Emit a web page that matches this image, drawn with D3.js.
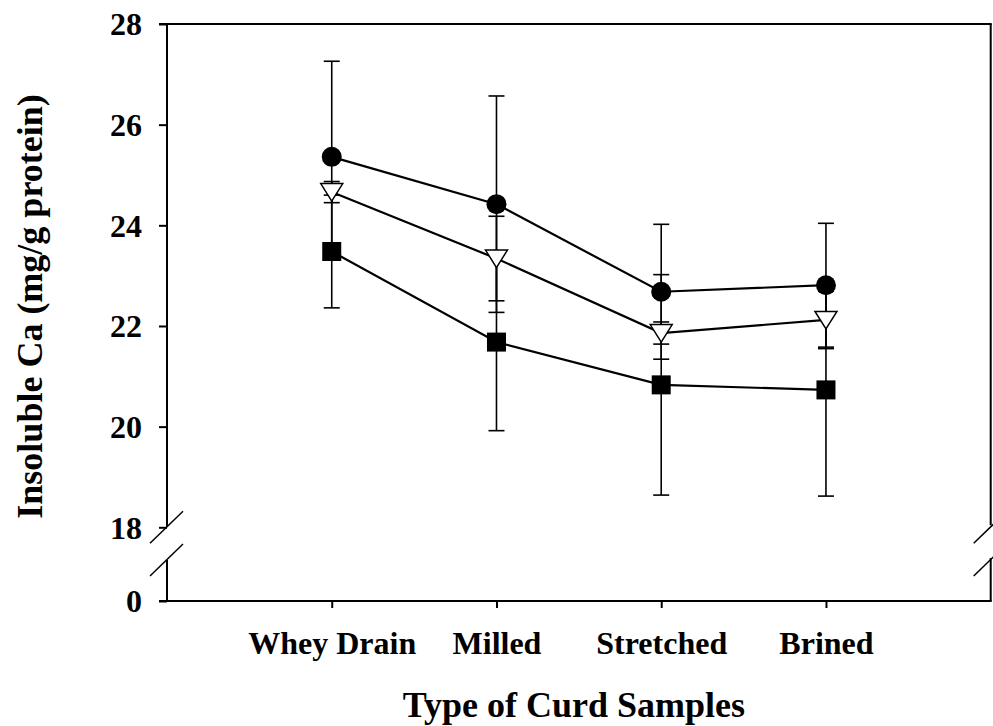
<!DOCTYPE html>
<html>
<head>
<meta charset="utf-8">
<script src="https://cdn.jsdelivr.net/npm/d3@7"></script>
<style>
  html, body { margin: 0; padding: 0; background: #fff; }
  svg { display: block; }
  text { font-family: "Liberation Serif", "Times New Roman", serif; font-weight: bold; fill: #000; }
</style>
</head>
<body>
<svg id="chart" width="993" height="726"></svg>
<script>
// Curd sample stages along the x axis
const categories = ["Whey Drain", "Milled", "Stretched", "Brined"];

// Insoluble Ca (mg/g protein), mean and error for each treatment series
const circleMean   = [25.36, 24.42, 22.68, 22.81];
const circleErr    = [1.90, 2.15, 1.34, 1.23];
const triangleMean = [24.66, 23.34, 21.86, 22.12];
const triangleErr  = [0.21, 0.84, 0.22, 0.57];
const squareMean   = [23.48, 21.68, 20.83, 20.73];
const squareErr    = [1.12, 1.76, 2.19, 2.11];

// Axis ticks
const yTicksUpper = [18, 20, 22, 24, 26, 28];
const yTicksLower = [0];

const svg = d3.select("#chart");

const plotLeft = 167, plotRight = 990.7, plotTop = 24, plotBottom = 601;
const breakUpper = 527.3;   // where the 18–28 segment ends
const breakLower = 560;     // where the 0 segment starts

const x = d3.scaleLinear().domain([0, 5]).range([plotLeft, plotRight]);
const yUp = d3.scaleLinear().domain([18, 28]).range([breakUpper, plotTop]);
const yLow = d3.scaleLinear().domain([0, 1]).range([plotBottom, breakLower]);

// ---- Frame and axes ----
const axisColor = "#000";
const fmt = d3.format("d");

// Upper left axis (18–28)
const gLeftUp = svg.append("g").attr("transform", `translate(${plotLeft},0)`)
  .call(d3.axisLeft(yUp).tickValues(yTicksUpper).tickFormat(fmt).tickSize(8).tickSizeOuter(0).tickPadding(17));
// Lower left axis (0)
const gLeftLow = svg.append("g").attr("transform", `translate(${plotLeft},0)`)
  .call(d3.axisLeft(yLow).tickValues(yTicksLower).tickFormat(fmt).tickSize(8).tickSizeOuter(0).tickPadding(17));

[gLeftUp, gLeftLow].forEach(g => {
  g.select(".domain").remove();
  g.selectAll(".tick line").attr("stroke", axisColor).attr("stroke-width", 2);
  g.selectAll(".tick text").style("font-size", "32px").attr("dy", "0.34em");
});

// Left axis line segments around the break
svg.append("line").attr("x1", plotLeft).attr("x2", plotLeft).attr("y1", plotTop).attr("y2", breakUpper - 0.5)
  .attr("stroke", axisColor).attr("stroke-width", 2);
svg.append("line").attr("x1", plotLeft).attr("x2", plotLeft).attr("y1", breakLower).attr("y2", plotBottom)
  .attr("stroke", axisColor).attr("stroke-width", 2);

// Right axis line segments around the break
svg.append("line").attr("x1", plotRight).attr("x2", plotRight).attr("y1", plotTop).attr("y2", breakUpper - 2)
  .attr("stroke", axisColor).attr("stroke-width", 2);
svg.append("line").attr("x1", plotRight).attr("x2", plotRight).attr("y1", breakLower - 2).attr("y2", plotBottom)
  .attr("stroke", axisColor).attr("stroke-width", 2);

// Top border
svg.append("line").attr("x1", plotLeft - 8).attr("x2", plotRight + 1).attr("y1", plotTop).attr("y2", plotTop)
  .attr("stroke", axisColor).attr("stroke-width", 2);

// Bottom x axis
const gX = svg.append("g").attr("transform", `translate(0,${plotBottom})`)
  .call(d3.axisBottom(x).tickValues([1, 2, 3, 4]).tickFormat(d => categories[d - 1])
    .tickSize(7).tickSizeOuter(0));
gX.select(".domain").remove();
gX.selectAll(".tick line").attr("stroke", axisColor).attr("stroke-width", 2);
gX.selectAll(".tick text").style("font-size", "32px").attr("y", 53).attr("dy", 0);
svg.append("line").attr("x1", plotLeft - 8).attr("x2", plotRight + 1).attr("y1", plotBottom).attr("y2", plotBottom)
  .attr("stroke", axisColor).attr("stroke-width", 2);

// Axis break slashes
function slash(cx, cy) {
  svg.append("line")
    .attr("x1", cx - 17).attr("y1", cy + 16)
    .attr("x2", cx + 16).attr("y2", cy - 16)
    .attr("stroke", axisColor).attr("stroke-width", 1.5);
}
[plotLeft, plotRight].forEach(cx => { slash(cx, breakUpper); slash(cx, breakLower); });

// ---- Axis titles ----
svg.append("text")
  .attr("x", (plotLeft + plotRight) / 2 - 5).attr("y", 717)
  .attr("text-anchor", "middle")
  .style("font-size", "36px")
  .text("Type of Curd Samples");

svg.append("text")
  .attr("transform", `translate(42,${(plotTop + plotBottom) / 2 - 6}) rotate(-90)`)
  .attr("text-anchor", "middle")
  .style("font-size", "36px")
  .text("Insoluble Ca (mg/g protein)");

// ---- Data series ----
const series = [
  { key: "square",   mean: squareMean,   err: squareErr },
  { key: "triangle", mean: triangleMean, err: triangleErr },
  { key: "circle",   mean: circleMean,   err: circleErr }
];

const capHalf = 8;
const errLayer = svg.append("g");
const lineLayer = svg.append("g");
const markLayer = svg.append("g");

const lineGen = d3.line().x((d, i) => x(i + 1)).y(d => yUp(d));

series.forEach(s => {
  // error bars
  s.mean.forEach((m, i) => {
    const cx = x(i + 1);
    const yt = yUp(m + s.err[i]);
    const yb = yUp(m - s.err[i]);
    const g = errLayer.append("g").attr("stroke", "#000").attr("stroke-width", 1.6);
    g.append("line").attr("x1", cx).attr("x2", cx).attr("y1", yt).attr("y2", yb);
    g.append("line").attr("x1", cx - capHalf).attr("x2", cx + capHalf).attr("y1", yt).attr("y2", yt);
    g.append("line").attr("x1", cx - capHalf).attr("x2", cx + capHalf).attr("y1", yb).attr("y2", yb);
  });
  // connecting line
  lineLayer.append("path")
    .datum(s.mean)
    .attr("d", lineGen)
    .attr("fill", "none")
    .attr("stroke", "#000")
    .attr("stroke-width", 2.2);
});

// markers
markLayer.selectAll(".sq").data(squareMean).enter().append("rect")
  .attr("x", (d, i) => x(i + 1) - 9.5).attr("y", d => yUp(d) - 9.5)
  .attr("width", 19).attr("height", 19)
  .attr("fill", "#000");

const triPath = "M-11,-8.5L11,-8.5L0,9Z";
markLayer.selectAll(".tri").data(triangleMean).enter().append("path")
  .attr("d", triPath)
  .attr("transform", (d, i) => `translate(${x(i + 1)},${yUp(d)})`)
  .attr("fill", "#fff").attr("stroke", "#000").attr("stroke-width", 1.5);

markLayer.selectAll(".ci").data(circleMean).enter().append("circle")
  .attr("cx", (d, i) => x(i + 1)).attr("cy", d => yUp(d))
  .attr("r", 10).attr("fill", "#000");
</script>
</body>
</html>
